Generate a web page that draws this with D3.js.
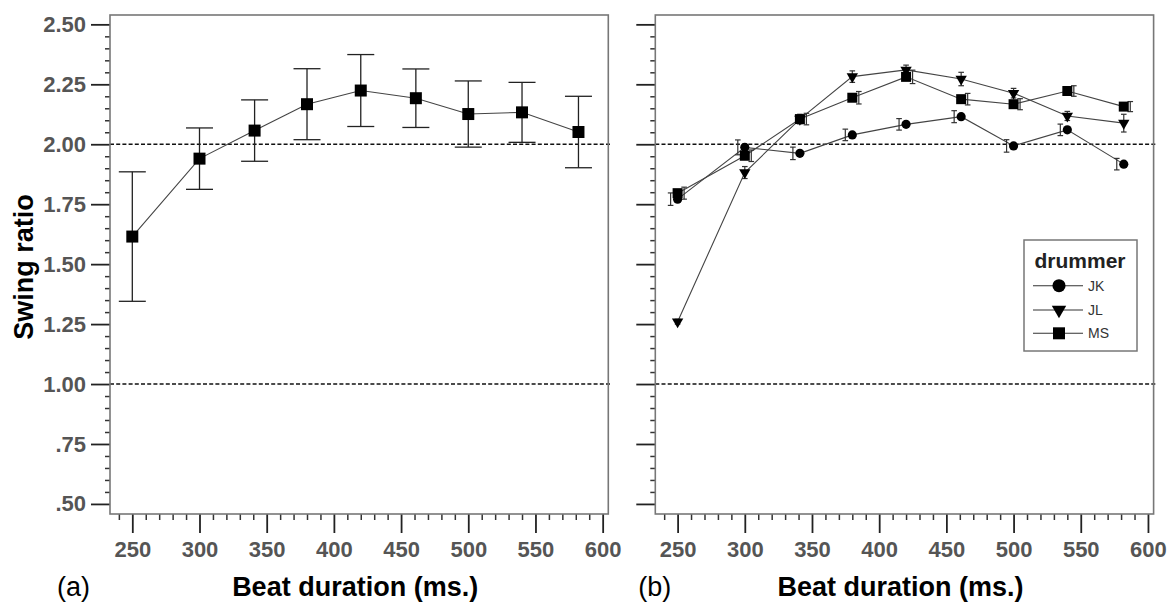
<!DOCTYPE html>
<html>
<head>
<meta charset="utf-8">
<script src="https://cdn.jsdelivr.net/npm/d3@7"></script>
<style>
  html, body { margin: 0; padding: 0; background: #fff; }
  svg { display: block; }
  text { font-family: "Liberation Sans", Arial, sans-serif; }
</style>
</head>
<body>
<svg id="chart" width="1176" height="603"></svg>
<script>
// ---------------- data ----------------
const beatDurations = [250, 300, 341, 380, 420, 461, 500, 540, 582];

// panel (a): all drummers pooled
const overallMean = [1.615, 1.940, 2.057, 2.167, 2.224, 2.192, 2.126, 2.133, 2.051];
const overallErr  = [0.270, 0.128, 0.128, 0.148, 0.150, 0.122, 0.138, 0.125, 0.149];

// panel (b): per drummer
const drummers = ["JK", "JL", "MS"];
const jkMean = [1.771, 1.987, 1.962, 2.039, 2.083, 2.115, 1.993, 2.060, 1.917];
const jkErr  = [0.026, 0.031, 0.026, 0.024, 0.024, 0.025, 0.026, 0.024, 0.024];
const jlMean = [1.260, 1.882, 2.105, 2.282, 2.310, 2.272, 2.213, 2.118, 2.088];
const jlErr  = [0.010, 0.025, 0.020, 0.024, 0.020, 0.028, 0.020, 0.019, 0.037];
const msMean = [1.796, 1.952, 2.105, 2.194, 2.281, 2.188, 2.167, 2.222, 2.157];
const msErr  = [0.025, 0.024, 0.024, 0.026, 0.028, 0.024, 0.023, 0.022, 0.021];

const yTickValues = [0.50, 0.75, 1.00, 1.25, 1.50, 1.75, 2.00, 2.25, 2.50];
const xTickValues = [250, 300, 350, 400, 450, 500, 550, 600];
const referenceLines = [1.00, 2.00];

const xTitle = "Beat duration (ms.)";
const yTitle = "Swing ratio";
const panelLabels = ["(a)", "(b)"];
const legendTitle = "drummer";

// ---------------- layout ----------------
const svg = d3.select("#chart");
const plotW = 498.3, plotTop = 15, plotBottom = 514;
const panelLefts = [110, 655.3];

const y = d3.scaleLinear().domain([0.458, 2.539]).range([plotBottom, plotTop]);
const x = d3.scaleLinear().domain([233.4, 604.2]).range([0, plotW]);

const yMinor = d3.range(0.5, 2.5001, 0.05).filter(v => !yTickValues.some(t => Math.abs(t - v) < 1e-6));
const xMinor = d3.range(240, 600.1, 10).filter(v => !xTickValues.includes(Math.round(v)));

const fmtY = d => d3.format(".2f")(d).replace(/^0/, "");

function drawPanel(idx) {
  const g = svg.append("g").attr("transform", `translate(${panelLefts[idx]},0)`);

  // reference dashed lines
  g.selectAll("line.ref").data(referenceLines).join("line")
    .attr("x1", 0).attr("x2", plotW + 2)
    .attr("y1", d => y(d)).attr("y2", d => y(d))
    .attr("stroke", "#111").attr("stroke-width", 1.6)
    .attr("stroke-dasharray", "4,2.2");

  // y axis major
  const yAx = g.append("g").call(
    d3.axisLeft(y).tickValues(yTickValues).tickSize(19).tickPadding(5)
      .tickFormat(idx === 0 ? fmtY : () => ""));
  yAx.select(".domain").remove();
  yAx.selectAll("line").attr("stroke", "#222").attr("stroke-width", 1.8);
  yAx.selectAll("text").attr("font-size", 22).attr("font-weight", "bold").attr("fill", "#555");
  // y axis minor
  const yMi = g.append("g").call(d3.axisLeft(y).tickValues(yMinor).tickSize(5).tickFormat(() => ""));
  yMi.select(".domain").remove();
  yMi.selectAll("line").attr("stroke", "#333").attr("stroke-width", 1.5);

  // x axis major
  const xAx = g.append("g").attr("transform", `translate(0,${plotBottom})`).call(
    d3.axisBottom(x).tickValues(xTickValues).tickSize(19).tickPadding(8));
  xAx.select(".domain").remove();
  xAx.selectAll("line").attr("stroke", "#222").attr("stroke-width", 1.8);
  xAx.selectAll("text").attr("font-size", 22).attr("font-weight", "bold").attr("fill", "#555");
  const xMi = g.append("g").attr("transform", `translate(0,${plotBottom})`).call(
    d3.axisBottom(x).tickValues(xMinor).tickSize(6).tickFormat(() => ""));
  xMi.select(".domain").remove();
  xMi.selectAll("line").attr("stroke", "#333").attr("stroke-width", 1.5);

  // frame
  g.append("rect").attr("x", 0).attr("y", plotTop)
    .attr("width", plotW).attr("height", plotBottom - plotTop)
    .attr("fill", "none").attr("stroke", "#777").attr("stroke-width", 1.6);

  // x title
  g.append("text").attr("x", plotW / 2 - 4).attr("y", 596)
    .attr("text-anchor", "middle").attr("font-size", 27).attr("font-weight", "bold")
    .attr("fill", "#000").text(xTitle);

  // panel label
  g.append("text").attr("x", idx === 0 ? -53 : -17).attr("y", 596)
    .attr("font-size", 27).attr("fill", "#000").text(panelLabels[idx]);
  return g;
}

const gA = drawPanel(0);
const gB = drawPanel(1);

// y title (left panel only)
svg.append("text")
  .attr("transform", "translate(33,267) rotate(-90)")
  .attr("text-anchor", "middle").attr("font-size", 27).attr("font-weight", "bold")
  .attr("fill", "#000").text(yTitle);

// ---------------- panel (a) ----------------
const dataA = beatDurations.map((b, i) => ({ b, m: overallMean[i], e: overallErr[i] }));
const line = d3.line().x(d => x(d.b)).y(d => y(d.m));

gA.append("path").datum(dataA).attr("d", line)
  .attr("fill", "none").attr("stroke", "#444").attr("stroke-width", 1.1);

const capA = 13.5;
const ebA = gA.selectAll("g.eb").data(dataA).join("g").attr("class", "eb");
ebA.append("line").attr("x1", d => x(d.b)).attr("x2", d => x(d.b))
  .attr("y1", d => y(d.m + d.e)).attr("y2", d => y(d.m - d.e));
ebA.append("line").attr("x1", d => x(d.b) - capA).attr("x2", d => x(d.b) + capA)
  .attr("y1", d => y(d.m + d.e)).attr("y2", d => y(d.m + d.e));
ebA.append("line").attr("x1", d => x(d.b) - capA).attr("x2", d => x(d.b) + capA)
  .attr("y1", d => y(d.m - d.e)).attr("y2", d => y(d.m - d.e));
ebA.selectAll("line").attr("stroke", "#222").attr("stroke-width", 1.3);

gA.selectAll("path.mk").data(dataA).join("path").attr("class", "mk")
  .attr("transform", d => `translate(${x(d.b)},${y(d.m)})`)
  .attr("d", d3.symbol(d3.symbolSquare, 144)()).attr("fill", "#000");

// ---------------- panel (b) ----------------
const seriesB = [
  { name: drummers[0], mean: jkMean, err: jkErr, sym: d3.symbolCircle, size: 66, legSize: 135, rot: 0, off: -7 },
  { name: drummers[1], mean: jlMean, err: jlErr, sym: d3.symbolTriangle, size: 56, legSize: 90, rot: 180, off: 0 },
  { name: drummers[2], mean: msMean, err: msErr, sym: d3.symbolSquare, size: 100, legSize: 144, rot: 0, off: 6.5 }
];
const capB = 2.8;

seriesB.forEach(s => {
  const data = beatDurations.map((b, i) => ({ b, m: s.mean[i], e: s.err[i] }));
  gB.append("path").datum(data).attr("d", line)
    .attr("fill", "none").attr("stroke", "#444").attr("stroke-width", 1.1);
});
seriesB.forEach(s => {
  const data = beatDurations.map((b, i) => ({ b, m: s.mean[i], e: s.err[i] }));
  const eb = gB.append("g").selectAll("g").data(data).join("g");
  eb.append("line").attr("x1", d => x(d.b) + s.off).attr("x2", d => x(d.b) + s.off)
    .attr("y1", d => y(d.m + d.e)).attr("y2", d => y(d.m - d.e));
  eb.append("line").attr("x1", d => x(d.b) + s.off - capB).attr("x2", d => x(d.b) + s.off + capB)
    .attr("y1", d => y(d.m + d.e)).attr("y2", d => y(d.m + d.e));
  eb.append("line").attr("x1", d => x(d.b) + s.off - capB).attr("x2", d => x(d.b) + s.off + capB)
    .attr("y1", d => y(d.m - d.e)).attr("y2", d => y(d.m - d.e));
  eb.selectAll("line").attr("stroke", "#333").attr("stroke-width", 1.2);
});
seriesB.forEach(s => {
  const data = beatDurations.map((b, i) => ({ b, m: s.mean[i] }));
  gB.append("g").selectAll("path").data(data).join("path")
    .attr("transform", d => `translate(${x(d.b)},${y(d.m)}) rotate(${s.rot})`)
    .attr("d", d3.symbol(s.sym, s.size)()).attr("fill", "#000");
});

// legend
const leg = svg.append("g").attr("transform", "translate(1024,240)");
leg.append("rect").attr("x", 0).attr("y", 0).attr("width", 113).attr("height", 111)
  .attr("fill", "#fff").attr("stroke", "#777").attr("stroke-width", 1.5);
leg.append("text").attr("x", 56).attr("y", 28).attr("text-anchor", "middle")
  .attr("font-size", 21).attr("font-weight", "bold").attr("fill", "#222").text(legendTitle);
const rowY = [45.7, 70, 93.3];
seriesB.forEach((s, i) => {
  const r = leg.append("g").attr("transform", `translate(0,${rowY[i]})`);
  r.append("line").attr("x1", 9).attr("x2", 59).attr("y1", 0).attr("y2", 0)
    .attr("stroke", "#333").attr("stroke-width", 1.1);
  r.append("path").attr("transform", `translate(35,0) rotate(${s.rot})`)
    .attr("d", d3.symbol(s.sym, s.legSize)()).attr("fill", "#000");
  r.append("text").attr("x", 64).attr("y", 5).attr("font-size", 14)
    .attr("fill", "#333").text(s.name);
});
</script>
</body>
</html>
